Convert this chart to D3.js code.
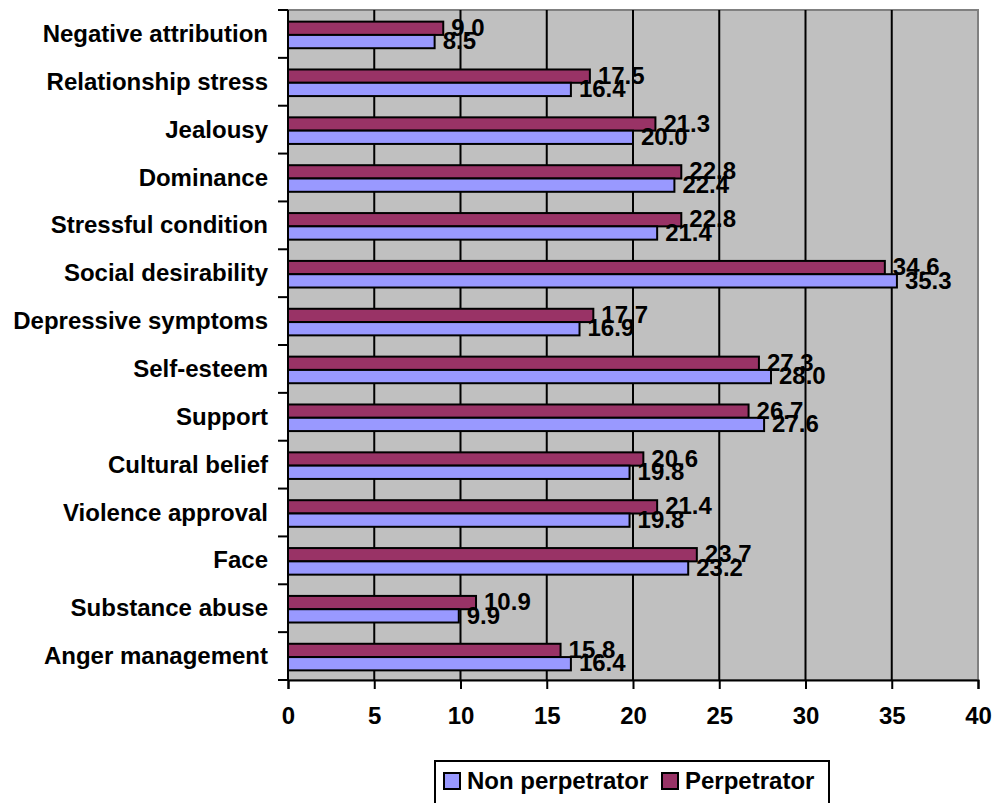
<!DOCTYPE html>
<html>
<head>
<meta charset="utf-8">
<script src="https://cdn.jsdelivr.net/npm/d3@7"></script>
<style>
  body { margin: 0; background: #fff; }
  text { font-family: Arial, "Liberation Sans", sans-serif; font-weight: bold; }
</style>
</head>
<body>
<script>
var categories = ["Negative attribution", "Relationship stress", "Jealousy", "Dominance",
    "Stressful condition", "Social desirability", "Depressive symptoms", "Self-esteem",
    "Support", "Cultural belief", "Violence approval", "Face", "Substance abuse",
    "Anger management"];
var nonPerpetrator = [8.5, 16.4, 20.0, 22.4, 21.4, 35.3, 16.9, 28.0, 27.6, 19.8, 19.8, 23.2, 9.9, 16.4];
var perpetrator = [9.0, 17.5, 21.3, 22.8, 22.8, 34.6, 17.7, 27.3, 26.7, 20.6, 21.4, 23.7, 10.9, 15.8];
var seriesNames = ["Perpetrator", "Non perpetrator"];
var xTicks = [0, 5, 10, 15, 20, 25, 30, 35, 40];

var width = 994,
    height = 803,
    margin = {top: 10, left: 288, right: 16, bottom: 123};

var colors = {"Perpetrator": "#993366", "Non perpetrator": "#9999ff"};

var x = d3.scaleLinear()
    .domain([0, 40])
    .range([margin.left, width - margin.right]);

var y = d3.scaleBand()
    .domain(categories)
    .range([margin.top, height - margin.bottom]);

// two bars inside each category band
var ySub = d3.scaleBand()
    .domain(seriesNames)
    .range([0, y.bandwidth()])
    .paddingOuter(0.8);

var svg = d3.select("body").append("svg")
    .attr("width", width)
    .attr("height", height);

// plot background
svg.append("rect")
    .attr("x", x(0))
    .attr("y", margin.top)
    .attr("width", x(40) - x(0))
    .attr("height", height - margin.bottom - margin.top)
    .attr("fill", "#c0c0c0")
    .attr("stroke", "#808080")
    .attr("stroke-width", 2);

// gridlines
svg.append("g")
  .selectAll("line")
    .data(xTicks.slice(1, -1))
    .enter().append("line")
    .attr("x1", function(d) { return x(d); })
    .attr("x2", function(d) { return x(d); })
    .attr("y1", margin.top)
    .attr("y2", height - margin.bottom)
    .attr("stroke", "#000")
    .attr("stroke-width", 2);

var rows = categories.map(function(c, i) {
  return {cat: c, values: [
    {name: "Perpetrator", value: perpetrator[i]},
    {name: "Non perpetrator", value: nonPerpetrator[i]}
  ]};
});

var groups = svg.append("g")
  .selectAll("g")
    .data(rows)
    .enter().append("g")
    .attr("transform", function(d) { return "translate(0," + (y(d.cat) + 1) + ")"; });

groups.selectAll("rect")
    .data(function(d) { return d.values; })
    .enter().append("rect")
    .attr("x", x(0))
    .attr("y", function(d) { return ySub(d.name); })
    .attr("width", function(d) { return x(d.value) - x(0); })
    .attr("height", ySub.bandwidth())
    .attr("fill", function(d) { return colors[d.name]; })
    .attr("stroke", "#000")
    .attr("stroke-width", 2);

groups.selectAll("text")
    .data(function(d) { return d.values; })
    .enter().append("text")
    .attr("x", function(d) { return x(d.value) + 8; })
    .attr("y", function(d) { return ySub(d.name) + ySub.bandwidth() + 1; })
    .attr("font-size", 24)
    .attr("fill", "#000")
    .text(function(d) { return d.value.toFixed(1); });

// x axis
var xAxis = svg.append("g")
    .attr("transform", "translate(0," + (height - margin.bottom) + ")")
    .call(d3.axisBottom(x).tickValues(xTicks).tickSize(9).tickPadding(18));
xAxis.select(".domain").attr("stroke-width", 2);
xAxis.selectAll(".tick line").attr("stroke-width", 2);
xAxis.selectAll("text")
    .attr("font-size", 24)
    .attr("font-family", "Arial, 'Liberation Sans', sans-serif")
    .attr("fill", "#000");

// y axis, ticks on category boundaries
var yAxis = svg.append("g")
    .attr("transform", "translate(" + x(0) + ",0)");
yAxis.append("line")
    .attr("y1", margin.top)
    .attr("y2", height - margin.bottom)
    .attr("stroke", "#000")
    .attr("stroke-width", 2);
yAxis.selectAll(".bound")
    .data(categories.concat([null]))
    .enter().append("line")
    .attr("x1", -10)
    .attr("x2", 0)
    .attr("y1", function(d, i) { return margin.top + i * y.step(); })
    .attr("y2", function(d, i) { return margin.top + i * y.step(); })
    .attr("stroke", "#000")
    .attr("stroke-width", 2);
yAxis.selectAll(".lbl")
    .data(categories)
    .enter().append("text")
    .attr("x", -20)
    .attr("y", function(d) { return y(d) + y.bandwidth() / 2 + 8; })
    .attr("text-anchor", "end")
    .attr("font-size", 24)
    .attr("fill", "#000")
    .text(function(d) { return d; });

// legend
var legend = svg.append("g");
legend.append("rect")
    .attr("x", 435)
    .attr("y", 761)
    .attr("width", 394)
    .attr("height", 50)
    .attr("fill", "#fff")
    .attr("stroke", "#000")
    .attr("stroke-width", 2);

var legendItems = [
  {name: "Non perpetrator", x: 444},
  {name: "Perpetrator", x: 662}
];
var li = legend.selectAll(".item")
    .data(legendItems)
    .enter().append("g")
    .attr("transform", function(d) { return "translate(" + d.x + ",773)"; });
li.append("rect")
    .attr("width", 16)
    .attr("height", 16)
    .attr("fill", function(d) { return colors[d.name]; })
    .attr("stroke", "#000")
    .attr("stroke-width", 2);
li.append("text")
    .attr("x", 23)
    .attr("y", 16)
    .attr("font-size", 24)
    .attr("fill", "#000")
    .text(function(d) { return d.name; });
</script>
</body>
</html>
